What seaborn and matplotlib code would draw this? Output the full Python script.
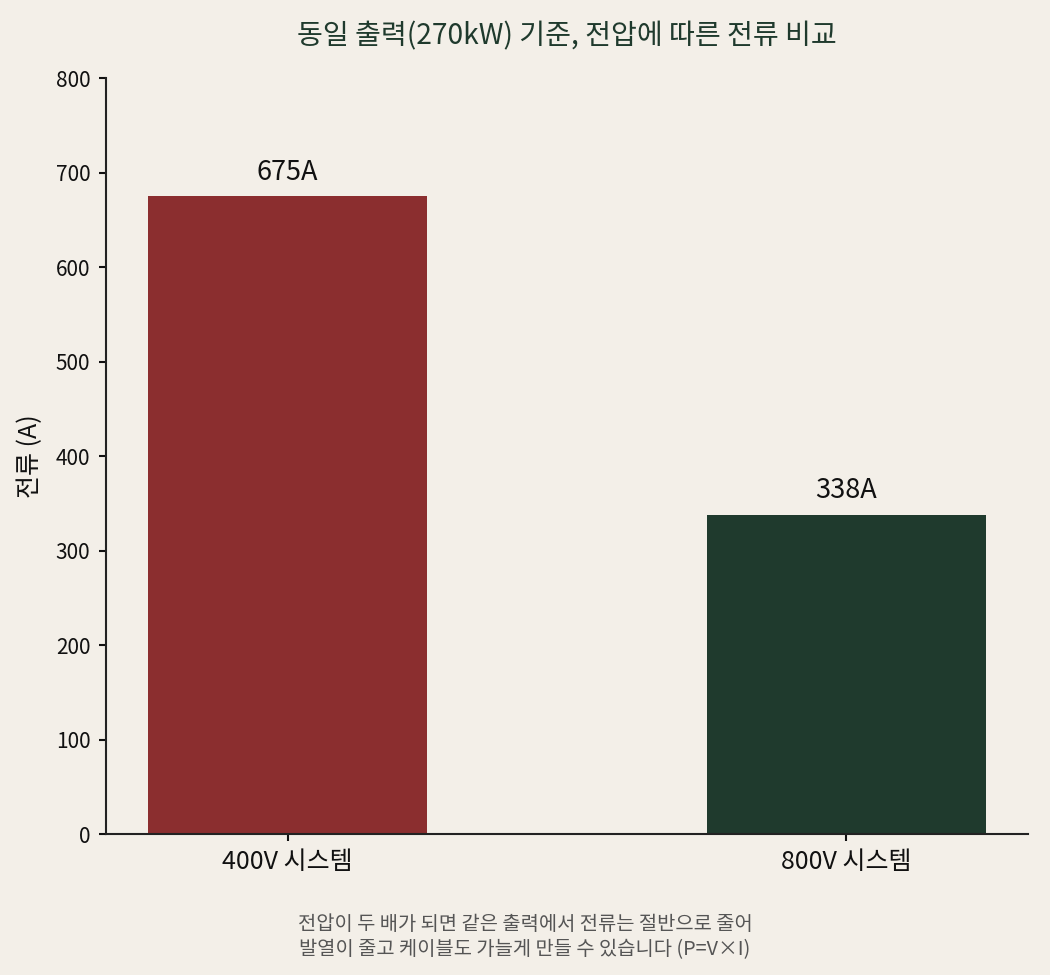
import matplotlib
matplotlib.use("Agg")
import matplotlib.pyplot as plt
import seaborn as sns
import pandas as pd

categories = ["400V 시스템", "800V 시스템"]
currents = [675, 338]
bar_labels = ["675A", "338A"]
colors = ["#8B2E2F", "#1F3A2D"]
yticks = [0, 100, 200, 300, 400, 500, 600, 700, 800]

bg = "#F3EFE8"
sns.set_theme(style="ticks")
plt.rcParams['font.family'] = ['Noto Sans CJK KR', 'DejaVu Sans']
plt.rcParams['axes.unicode_minus'] = False

df = pd.DataFrame({"system": categories, "current": currents})

fig = plt.figure(figsize=(7, 6.5), dpi=150, facecolor=bg)
ax = fig.add_axes([0.101, 0.1446, 0.878, 0.7754])
ax.set_facecolor(bg)

sns.barplot(data=df, x="system", y="current", hue="system", palette=colors,
            width=0.5, legend=False, ax=ax, saturation=1, linewidth=0)
ax.set_xlim(-0.325, 1.325)
ax.set_ylim(0, 800)
ax.set_yticks(yticks)
ax.tick_params(axis='y', labelsize=10, colors="#111111", length=3.5, width=1, pad=4)
ax.tick_params(axis='x', labelsize=12, colors="#111111", length=3.5, width=1)
for i, (v, lab) in enumerate(zip(currents, bar_labels)):
    ax.annotate(lab, xy=(i, v), xytext=(0, 5), textcoords="offset points",
                ha="center", va="bottom", fontsize=13, color="#111111")
sns.despine(ax=ax)
for s in ["left", "bottom"]:
    ax.spines[s].set_color("#222222")
    ax.spines[s].set_linewidth(1)
ax.set_xlabel("")
ax.set_ylabel("전류 (A)", fontsize=12, color="#111111", labelpad=6)
ax.set_title("동일 출력(270kW) 기준, 전압에 따른 전류 비교", fontsize=13.5,
             color="#1F3A2D", pad=16)
fig.text(0.5, 0.039, "전압이 두 배가 되면 같은 출력에서 전류는 절반으로 줄어\n발열이 줄고 케이블도 가늘게 만들 수 있습니다 (P=V×I)",
         ha="center", va="center", fontsize=9.5, color="#555555", linespacing=1.3)

fig.savefig("out.png", dpi=150, facecolor=bg)
